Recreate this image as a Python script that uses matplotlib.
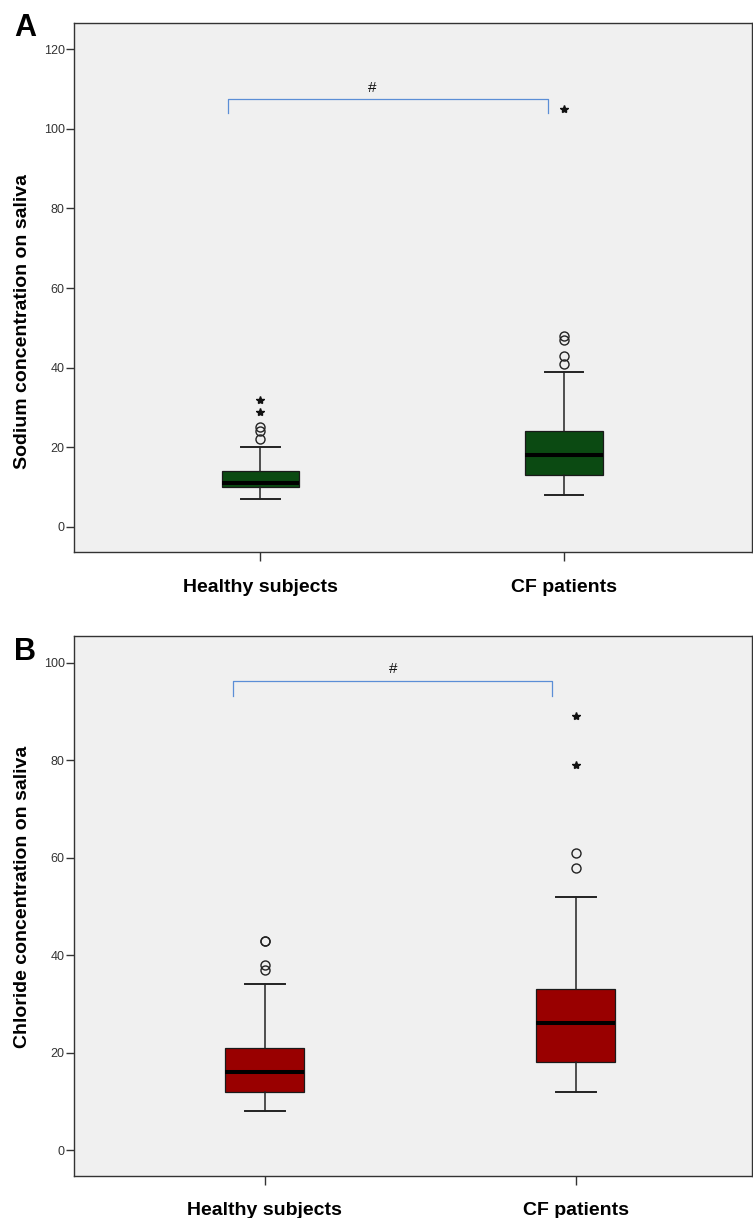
import matplotlib.pyplot as plt

plt.rcParams['font.family'] = ['Liberation Sans', 'DejaVu Sans']

# =====================================================
# DATA
# =====================================================
groups = ["Healthy subjects", "CF patients"]

# Panel A - sodium
na_q1 = [10, 13]
na_med = [11, 18]
na_q3 = [14, 24]
na_lo = [7, 8]
na_hi = [20, 39]
na_circles = [[22, 24, 25], [41, 43, 47, 48]]
na_stars = [[29, 32], [105]]

# Panel B - chloride
cl_q1 = [12, 18]
cl_med = [16, 26]
cl_q3 = [21, 33]
cl_lo = [8, 12]
cl_hi = [34, 52]
cl_circles = [[37, 38, 43, 43], [58, 61]]
cl_stars = [[], [79, 89]]

# significance brackets: x span, bar height, leg bottom
na_bracket_x = [0.894, 1.946]
na_bracket_y = [107.6, 103.9]
cl_bracket_x = [0.898, 1.924]
cl_bracket_y = [96.2, 93.2]


def draw_panel(ax, q1, med, q3, lo, hi, circles, stars, color,
               ylabel, ylim, yticks, xlim, bracket_x, bracket_y, hash_x,
               label_y):
    positions = [1, 2]
    stats = []
    for i in range(len(groups)):
        stats.append({
            'label': groups[i],
            'q1': q1[i], 'med': med[i], 'q3': q3[i],
            'whislo': lo[i], 'whishi': hi[i],
            'fliers': circles[i],
        })
    ax.bxp(
        stats,
        positions=positions,
        widths=0.254,
        patch_artist=True,
        showfliers=True,
        boxprops=dict(facecolor=color, edgecolor='#1a1a1a', linewidth=0.9),
        medianprops=dict(color='black', linewidth=2.9, solid_capstyle='butt'),
        whiskerprops=dict(color='#222222', linewidth=1.1),
        capprops=dict(color='#222222', linewidth=1.4),
        capwidths=0.127,
        flierprops=dict(marker='o', markerfacecolor='none',
                        markeredgecolor='#222222', markersize=6.5,
                        markeredgewidth=1.0),
    )
    for p, s in zip(positions, stars):
        if s:
            ax.plot([p] * len(s), s, linestyle='none', marker='*',
                    color='#111111', markersize=6)

    # significance bracket
    bx0, bx1 = bracket_x
    top, leg = bracket_y
    ax.plot([bx0, bx0, bx1, bx1], [leg, top, top, leg],
            color='#5b8ed6', linewidth=0.9)
    ax.text(hash_x, top + 1.0, '#', ha='center', va='bottom',
            fontsize=11, color='#111111')

    ax.set_facecolor('#f0f0f0')
    ax.set_xlim(*xlim)
    ax.set_ylim(*ylim)
    ax.set_yticks(yticks)
    ax.set_xticks(positions)
    ax.set_xticklabels(groups, fontsize=14, fontweight='bold')
    ax.tick_params(axis='y', direction='out', length=6, width=1,
                   labelsize=9, labelcolor='#333333', color='#333333', pad=1)
    ax.tick_params(axis='x', direction='out', length=6.5, width=1,
                   color='#333333', pad=12.5)
    for sp in ax.spines.values():
        sp.set_color('#333333')
        sp.set_linewidth(1.0)
    ax.set_ylabel(ylabel, fontsize=14, fontweight='bold')
    ax.yaxis.set_label_coords(-0.064, label_y)


fig = plt.figure(figsize=(7.53, 12.18), dpi=100)
ax_a = fig.add_axes([0.0987, 0.5464, 0.9, 0.4345])
ax_b = fig.add_axes([0.0987, 0.0345, 0.9, 0.4433])

draw_panel(ax_a, na_q1, na_med, na_q3, na_lo, na_hi, na_circles, na_stars,
           '#0b4a12', 'Sodium concentration on saliva',
           (-6.4, 126.5), [0, 20, 40, 60, 80, 100, 120],
           (0.3875, 2.619), na_bracket_x, na_bracket_y, 1.368, 0.437)
draw_panel(ax_b, cl_q1, cl_med, cl_q3, cl_lo, cl_hi, cl_circles, cl_stars,
           '#990000', 'Chloride concentration on saliva',
           (-5.3, 105.5), [0, 20, 40, 60, 80, 100],
           (0.388, 2.566), cl_bracket_x, cl_bracket_y, 1.413, 0.517)

fig.text(0.019, 0.989, 'A', fontsize=22, fontweight='bold', va='top', ha='left')
fig.text(0.019, 0.477, 'B', fontsize=22, fontweight='bold', va='top', ha='left')

fig.savefig('out.png', dpi=100, facecolor='white')
